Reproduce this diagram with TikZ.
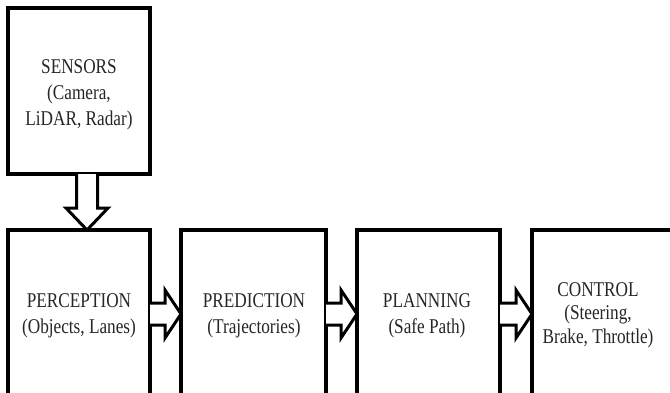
\documentclass[tikz,border=0pt]{standalone}
\usepackage{fontspec}
\setmainfont{Liberation Serif}
\newfontfamily\lblfont[FakeStretch=0.82]{Liberation Serif}
\usetikzlibrary{calc}
\tikzset{
  box/.style={draw=black, line width=4pt, fill=white, rectangle, outer sep=0pt, inner sep=0pt},
  lbl/.style={align=center, inner sep=0pt, text=black!85, font=\lblfont\fontsize{21}{26}\selectfont},
  lbl3/.style={align=center, inner sep=0pt, text=black!85, font=\lblfont\fontsize{21}{23.5}\selectfont},
  hollow/.style={draw=black, line width=3pt, fill=white, line join=miter}
}
\newcommand{\harrow}[2]{%
  \draw[hollow] let \p1=(#1.east), \p2=(#2.west), \p3=(row) in
    (\x1,\y3+11pt) -- (\x2-16pt,\y3+11pt) -- (\x2-16pt,\y3+24pt) -- (\x2,\y3)
    -- (\x2-16pt,\y3-24pt) -- (\x2-16pt,\y3-11pt) -- (\x1,\y3-11pt);}
\begin{document}
\begin{tikzpicture}[x=1pt,y=-1pt]
\useasboundingbox (0,0) rectangle (670,392);
\clip (0,0) rectangle (670,392);
\fill[white] (0,0) rectangle (670,392);
\coordinate (row) at (0,314);
% boxes
\node[box, minimum width=142pt, minimum height=166pt] (sens) at (79,91) {};
\node[box, minimum width=142pt, minimum height=190pt] (perc) at (79,325) {};
\node[box, minimum width=145pt, minimum height=190pt] (pred) at (253.5,325) {};
\node[box, minimum width=143pt, minimum height=190pt] (plan) at (428.5,325) {};
\node[box, minimum width=188pt, minimum height=190pt] (ctrl) at (626,325) {};
% texts
\node[lbl] (sensT) at (79,95) {SENSORS\\(Camera,\\LiDAR, Radar)};
\node[lbl] (percT) at (79,316) {PERCEPTION\\(Objects, Lanes)};
\node[lbl] (predT) at (254,316) {PREDICTION\\(Trajectories)};
\node[lbl] (planT) at (427,316) {PLANNING\\(Safe Path)};
\node[lbl3] (ctrlT) at (598,315) {CONTROL\\(Steering,\\Brake, Throttle)};
% vertical hollow arrow
\draw[hollow] let \p1=([xshift=8pt]sens.south), \p2=([xshift=8pt]perc.north) in
  (\x1-10.5pt,\y1) -- (\x1-10.5pt,\y2+22pt) -- (\x1-21pt,\y2+22pt) -- (\x2,\y2)
  -- (\x1+21pt,\y2+22pt) -- (\x1+10.5pt,\y2+22pt) -- (\x1+10.5pt,\y1);
% horizontal hollow arrows
\harrow{perc}{pred}
\harrow{pred}{plan}
\harrow{plan}{ctrl}
\end{tikzpicture}
\end{document}
